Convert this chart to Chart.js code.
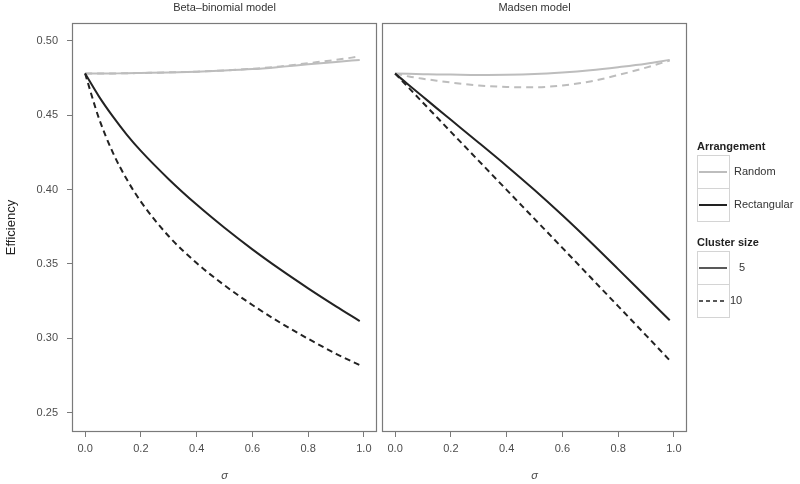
<!DOCTYPE html>
<html>
<head>
<meta charset="utf-8">
<script src="https://cdn.jsdelivr.net/npm/chart.js@4/dist/chart.umd.min.js"></script>
<style>
  html, body { margin: 0; padding: 0; background: #fff; }
  #wrap { position: relative; width: 800px; height: 484px; overflow: hidden; background: #fff; }
  #c1 { position: absolute; left: 0; top: 0; }
  #c2 { position: absolute; left: 380px; top: 0; }
</style>
</head>
<body>
<div id="wrap">
  <canvas id="c1" width="380" height="484"></canvas>
  <canvas id="c2" width="420" height="484"></canvas>
</div>
<script>
// ---- data ----
const sigma = [0, 0.05, 0.1, 0.15, 0.2, 0.3, 0.4, 0.5, 0.6, 0.7, 0.8, 0.9, 0.985];

// Beta-binomial model
const bbRandom5  = [0.478, 0.4780, 0.4781, 0.4782, 0.4784, 0.4788, 0.4793, 0.4800, 0.4810, 0.4825, 0.4842, 0.4858, 0.4872];
const bbRandom10 = [0.478, 0.4780, 0.4781, 0.4782, 0.4784, 0.4788, 0.4793, 0.4801, 0.4812, 0.4828, 0.4850, 0.4872, 0.4895];
const bbRect5    = [0.478, 0.4625, 0.4490, 0.4368, 0.4260, 0.4070, 0.3899, 0.3743, 0.3598, 0.3463, 0.3336, 0.3215, 0.3116];
const bbRect10   = [0.478, 0.4477, 0.4247, 0.4067, 0.3919, 0.3686, 0.3506, 0.3356, 0.3224, 0.3105, 0.2997, 0.2896, 0.2820];

// Madsen model
const mRandom5   = [0.478, 0.4778, 0.4776, 0.4774, 0.4773, 0.4771, 0.4772, 0.4777, 0.4788, 0.4803, 0.4823, 0.4846, 0.4872];
const mRandom10  = [0.478, 0.4760, 0.4745, 0.4732, 0.4720, 0.4700, 0.4690, 0.4688, 0.4700, 0.4727, 0.4770, 0.4820, 0.4868];
const mRect5     = [0.478, 0.4702, 0.4624, 0.4546, 0.4469, 0.4315, 0.4159, 0.3997, 0.3827, 0.3649, 0.3465, 0.3279, 0.3121];
const mRect10    = [0.478, 0.4682, 0.4584, 0.4486, 0.4388, 0.4193, 0.3998, 0.3803, 0.3608, 0.3412, 0.3216, 0.3020, 0.2852];

const xTicks = [0.0, 0.2, 0.4, 0.6, 0.8, 1.0];
const yTicks = [0.25, 0.30, 0.35, 0.40, 0.45, 0.50];
const panelTitles = ['Beta\u2013binomial model', 'Madsen model'];
const legendGroups = [
  { title: 'Arrangement', items: ['Random', 'Rectangular'] },
  { title: 'Cluster size', items: ['5', '10'] }
];

// ---- styles ----
const FONT = "'Liberation Sans', Arial, Helvetica, sans-serif";
const GRAY = '#bdbdbd';
const BLACK = '#222222';
const DASH_BLACK = [6, 4];
const DASH_GRAY = [7, 5];

function pts(arr) { return sigma.map((x, i) => ({ x: x, y: arr[i] })); }

function ds(label, arr, color, dash) {
  return {
    label: label,
    data: pts(arr),
    borderColor: color,
    borderWidth: 2,
    borderDash: dash || [],
    pointRadius: 0,
    cubicInterpolationMode: 'monotone',
    fill: false
  };
}

const panelPlugin = {
  id: 'panelDeco',
  afterDraw(chart, args, opts) {
    const ctx = chart.ctx;
    const a = chart.chartArea;
    ctx.save();
    ctx.strokeStyle = '#7a7a7a';
    ctx.lineWidth = 1.2;
    ctx.strokeRect(a.left + 0.5, a.top + 0.5, a.right - a.left - 1, a.bottom - a.top - 1);
    ctx.fillStyle = '#333';
    ctx.font = '11px ' + FONT;
    ctx.textAlign = 'center';
    ctx.textBaseline = 'middle';
    ctx.fillText(opts.title, (a.left + a.right) / 2, 8);
    ctx.restore();
  }
};

const legendPlugin = {
  id: 'facetLegend',
  afterDraw(chart) {
    if (!chart.options.plugins.facetLegend || !chart.options.plugins.facetLegend.show) return;
    const ctx = chart.ctx;
    const off = 380;
    ctx.save();
    const boxX = 697 - off, boxW = 32, boxH = 33;
    const layout = [
      { titleY: 147, boxTop: 155, texts: [734, 734],
        styles: [{ c: GRAY, w: 2, d: [] }, { c: BLACK, w: 2, d: [] }] },
      { titleY: 243, boxTop: 251, texts: [739, 730],
        styles: [{ c: BLACK, w: 1.5, d: [] }, { c: BLACK, w: 1.5, d: [4, 3] }] }
    ];
    legendGroups.forEach((g, gi) => {
      const L = layout[gi];
      ctx.fillStyle = '#222';
      ctx.font = 'bold 11px ' + FONT;
      ctx.textAlign = 'left';
      ctx.textBaseline = 'middle';
      ctx.fillText(g.title, boxX, L.titleY);
      g.items.forEach((it, ii) => {
        const top = L.boxTop + ii * boxH;
        ctx.strokeStyle = '#d4d4d4';
        ctx.lineWidth = 1;
        ctx.setLineDash([]);
        ctx.strokeRect(boxX + 0.5, top + 0.5, boxW, boxH);
        const s = L.styles[ii];
        ctx.strokeStyle = s.c;
        ctx.lineWidth = s.w;
        ctx.setLineDash(s.d);
        ctx.beginPath();
        ctx.moveTo(boxX + 2, top + boxH / 2 + 0.5);
        ctx.lineTo(boxX + boxW - 2, top + boxH / 2 + 0.5);
        ctx.stroke();
        ctx.setLineDash([]);
        ctx.fillStyle = '#333';
        ctx.font = '11px ' + FONT;
        ctx.fillText(it, L.texts[ii] - off, top + boxH / 2 + 0.5);
      });
    });
    ctx.restore();
  }
};

function makeOptions(showY, title, padding, showLegend) {
  return {
    responsive: false,
    animation: false,
    layout: { padding: padding },
    plugins: {
      legend: { display: false },
      tooltip: { enabled: false },
      panelDeco: { title: title },
      facetLegend: { show: showLegend }
    },
    scales: {
      x: {
        type: 'linear',
        min: -0.047, max: 1.047,
        afterBuildTicks(s) { s.ticks = xTicks.map(v => ({ value: v })); },
        afterFit(s) { s.height = 52; },
        ticks: {
          callback: v => Number(v).toFixed(1),
          font: { family: FONT, size: 11 },
          color: '#4d4d4d',
          padding: 5,
          maxRotation: 0,
          autoSkip: false
        },
        grid: { drawOnChartArea: false, drawTicks: true, tickLength: 5, color: '#7a7a7a' },
        border: { display: false },
        title: {
          display: true, text: '\u03c3',
          font: { family: FONT, size: 11, style: 'italic' },
          color: '#444',
          padding: { top: 0, bottom: 1 }
        }
      },
      y: {
        type: 'linear',
        display: showY,
        min: 0.237, max: 0.512,
        afterBuildTicks(s) { s.ticks = yTicks.map(v => ({ value: v })); },
        afterFit(s) { if (showY) { s.width = 72; } else { s.width = 0; } },
        ticks: {
          callback: v => Number(v).toFixed(2),
          font: { family: FONT, size: 11 },
          color: '#4d4d4d',
          padding: 9,
          autoSkip: false
        },
        grid: { drawOnChartArea: false, drawTicks: true, tickLength: 5, color: '#7a7a7a' },
        border: { display: false },
        title: {
          display: true, text: 'Efficiency',
          font: { family: FONT, size: 13 },
          color: '#222',
          padding: { top: 4, bottom: 0 }
        }
      }
    }
  };
}

new Chart(document.getElementById('c1'), {
  type: 'line',
  data: {
    datasets: [
      ds('Rectangular, 5', bbRect5, BLACK),
      ds('Rectangular, 10', bbRect10, BLACK, DASH_BLACK),
      ds('Random, 5', bbRandom5, GRAY),
      ds('Random, 10', bbRandom10, GRAY, DASH_GRAY)
    ]
  },
  options: makeOptions(true, panelTitles[0], { left: 0, right: 3, top: 23, bottom: 0 }, false),
  plugins: [panelPlugin]
});

new Chart(document.getElementById('c2'), {
  type: 'line',
  data: {
    datasets: [
      ds('Rectangular, 5', mRect5, BLACK),
      ds('Rectangular, 10', mRect10, BLACK, DASH_BLACK),
      ds('Random, 5', mRandom5, GRAY),
      ds('Random, 10', mRandom10, GRAY, DASH_GRAY)
    ]
  },
  options: makeOptions(false, panelTitles[1], { left: 2, right: 113, top: 23, bottom: 0 }, true),
  plugins: [panelPlugin, legendPlugin]
});
</script>
</body>
</html>
